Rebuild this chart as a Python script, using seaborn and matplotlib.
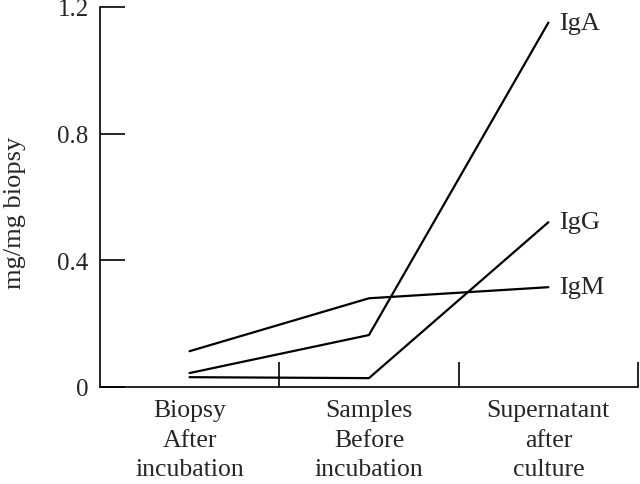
import pandas as pd
import matplotlib.pyplot as plt
import seaborn as sns

categories = ["Biopsy\nAfter\nincubation", "Samples\nBefore\nincubation", "Supernatant\nafter\nculture"]
iga = [0.044, 0.164, 1.15]
igg = [0.031, 0.028, 0.52]
igm = [0.113, 0.28, 0.315]
series_names = ["IgA", "IgG", "IgM"]

sns.set_style("white")
plt.rcParams['font.family'] = ['Liberation Serif', 'DejaVu Serif']

rows = []
for name, vals in zip(series_names, [iga, igg, igm]):
    for i, v in enumerate(vals):
        rows.append({"pos": i, "value": v, "series": name})
df = pd.DataFrame(rows)

fig = plt.figure(figsize=(6.4, 4.85), dpi=100)
ax = fig.add_axes([0.156, 0.2, 0.841, 0.784])
sns.lineplot(data=df, x="pos", y="value", hue="series",
             palette=["black"] * 3, linewidth=1.6, legend=False, ax=ax)

# series labels at the right end of each line
for name, vals in zip(series_names, [iga, igg, igm]):
    ax.text(len(vals) - 1 + 0.06, vals[-1], name, fontsize=19,
            va="center", ha="left")

ax.set_xlim(-0.5, 2.5)
ax.set_ylim(0, 1.2)
ax.set_yticks([0, 0.4, 0.8, 1.2])
ax.set_yticklabels(["0", "0.4", "0.8", "1.2"], fontsize=18)
ax.set_xticks(range(len(categories)))
ax.set_xticklabels(categories, fontsize=18.5, linespacing=1.42)
ax.set_xticks([0.5, 1.5, 2.5], minor=True)
ax.tick_params(axis="x", which="major", length=0, pad=9, bottom=True)
ax.tick_params(axis="x", which="minor", direction="in", length=18, width=1.2,
               color="black", bottom=True)
ax.tick_params(axis="y", direction="in", length=18, width=1.2, color="black", pad=8, left=True)
ax.set_xlabel("")
ax.set_ylabel("mg/mg biopsy", fontsize=19)
ax.yaxis.set_label_coords(-0.138, 0.46)

for side in ["top", "right"]:
    ax.spines[side].set_visible(False)
for side in ["left", "bottom"]:
    ax.spines[side].set_color("black")
    ax.spines[side].set_linewidth(1.2)

fig.savefig("out.png", dpi=100)
